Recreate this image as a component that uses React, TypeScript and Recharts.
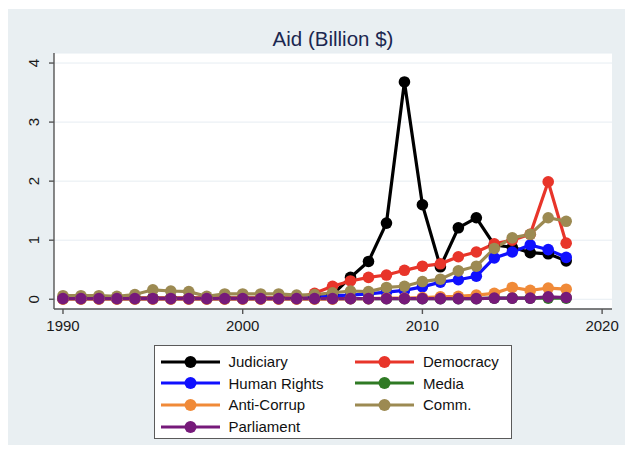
import React from "react";
import { LineChart, Line, XAxis, YAxis, CartesianGrid } from "recharts";

const years = [
  1990, 1991, 1992, 1993, 1994, 1995, 1996, 1997, 1998, 1999, 2000, 2001, 2002,
  2003, 2004, 2005, 2006, 2007, 2008, 2009, 2010, 2011, 2012, 2013, 2014, 2015,
  2016, 2017, 2018,
];

const judiciary = [
  0.02, 0.02, 0.02, 0.02, 0.02, 0.02, 0.02, 0.02, 0.02, 0.02, 0.02, 0.02, 0.02,
  0.02, 0.04, 0.08, 0.37, 0.64, 1.29, 3.68, 1.6, 0.55, 1.21, 1.38, 0.92, 0.88,
  0.79, 0.77, 0.65,
];
const democracy = [
  0.02, 0.02, 0.02, 0.02, 0.02, 0.02, 0.02, 0.02, 0.02, 0.02, 0.02, 0.02, 0.02,
  0.02, 0.1, 0.22, 0.31, 0.37, 0.41, 0.49, 0.56, 0.6, 0.72, 0.8, 0.94, 1.0,
  1.1, 1.99, 0.95,
];
const humanRights = [
  0.01, 0.01, 0.01, 0.01, 0.01, 0.01, 0.01, 0.01, 0.01, 0.01, 0.01, 0.01, 0.01,
  0.01, 0.03, 0.06, 0.07, 0.09, 0.12, 0.15, 0.21, 0.29, 0.33, 0.39, 0.7, 0.8,
  0.92, 0.84, 0.71,
];
const media = [
  0.01, 0.01, 0.01, 0.01, 0.01, 0.01, 0.01, 0.01, 0.01, 0.01, 0.01, 0.01, 0.01,
  0.01, 0.01, 0.01, 0.01, 0.01, 0.01, 0.01, 0.01, 0.01, 0.01, 0.01, 0.02, 0.02,
  0.02, 0.02, 0.02,
];
const antiCorrup = [
  0.0, 0.0, 0.0, 0.0, 0.0, 0.0, 0.0, 0.0, 0.0, 0.0, 0.0, 0.0, 0.0, 0.0, 0.0,
  0.0, 0.01, 0.01, 0.02, 0.02, 0.03, 0.04, 0.05, 0.07, 0.1, 0.2, 0.15, 0.19,
  0.17,
];
const comm = [
  0.06, 0.06, 0.06, 0.05, 0.08, 0.16, 0.14, 0.13, 0.05, 0.09, 0.09, 0.09, 0.09,
  0.07, 0.08, 0.11, 0.14, 0.13, 0.2, 0.22, 0.3, 0.34, 0.48, 0.56, 0.86, 1.04,
  1.1, 1.38, 1.32,
];
const parliament = [
  0.01, 0.01, 0.01, 0.01, 0.01, 0.01, 0.01, 0.01, 0.01, 0.01, 0.01, 0.01, 0.01,
  0.01, 0.01, 0.01, 0.01, 0.01, 0.01, 0.01, 0.01, 0.01, 0.01, 0.01, 0.02, 0.02,
  0.02, 0.04, 0.03,
];

const xTicks = [1990, 2000, 2010, 2020];
const yTicks = [0, 1, 2, 3, 4];

// legend order is row-first, two columns (Stata style)
const series = [
  { key: "judiciary", name: "Judiciary", color: "#000000", values: judiciary },
  { key: "democracy", name: "Democracy", color: "#e8352a", values: democracy },
  { key: "humanRights", name: "Human Rights", color: "#1010ff", values: humanRights },
  { key: "media", name: "Media", color: "#2f7a24", values: media },
  { key: "antiCorrup", name: "Anti-Corrup", color: "#f08a38", values: antiCorrup },
  { key: "comm", name: "Comm.", color: "#9c8a52", values: comm },
  { key: "parliament", name: "Parliament", color: "#761a7a", values: parliament },
];

const data = years.map((year, i) => {
  const row: Record<string, number> = { year };
  series.forEach((s) => {
    row[s.key] = s.values[i];
  });
  return row;
});

const FONT = '"Liberation Sans", Arial, Helvetica, sans-serif';
const AXIS = "#555555";

const YTick = (props: any) => {
  const { x, y, payload } = props;
  const bx = x - 8;
  return (
    <text
      x={bx}
      y={y}
      transform={`rotate(-90, ${bx}, ${y})`}
      textAnchor="middle"
      fontSize={15}
      fontFamily={FONT}
      fill="#1a1a1a"
    >
      {payload.value}
    </text>
  );
};

const XTick = (props: any) => {
  const { x, y, payload } = props;
  return (
    <text
      x={x}
      y={y}
      dy="0.71em"
      textAnchor="middle"
      fontSize={15}
      fontFamily={FONT}
      fill="#1a1a1a"
    >
      {payload.value}
    </text>
  );
};

function LegendBox() {
  const rows: (typeof series)[] = [];
  for (let i = 0; i < series.length; i += 2) rows.push(series.slice(i, i + 2));
  return (
    <div
      style={{
        position: "absolute",
        left: 146,
        top: 336,
        width: 358,
        height: 94,
        background: "#fff",
        border: "1.5px solid #5a5a5a",
        boxSizing: "border-box",
        fontFamily: FONT,
        fontSize: 15,
        color: "#111",
      }}
    >
      {rows.map((row, r) =>
        row.map((s, c) => (
          <div
            key={s.key}
            style={{
              position: "absolute",
              left: c === 0 ? 5.5 : 200,
              top: 4.5 + r * 21.7,
              height: 22,
              display: "flex",
              alignItems: "center",
            }}
          >
            <svg width={60} height={14} style={{ display: "block" }}>
              <line x1={0} y1={7} x2={59} y2={7} stroke={s.color} strokeWidth={3.2} />
              <circle cx={29.5} cy={7} r={6} fill={s.color} />
            </svg>
            <span style={{ marginLeft: 8, whiteSpace: "nowrap" }}>{s.name}</span>
          </div>
        ))
      )}
    </div>
  );
}

export default function App() {
  return (
    <div
      style={{
        position: "absolute",
        left: 0,
        top: 0,
        width: 625,
        height: 455,
        background: "#fff",
      }}
    >
      <div
        style={{
          position: "absolute",
          left: 8,
          top: 9,
          width: 617,
          height: 436,
          background: "#e9eff2",
        }}
      >
        <div
          style={{
            position: "absolute",
            left: 0,
            width: 650,
            top: 18,
            textAlign: "center",
            fontFamily: FONT,
            fontSize: 20.5,
            color: "#1b2750",
            lineHeight: "24px",
          }}
        >
          Aid (Billion $)
        </div>
        <LineChart
          width={617}
          height={436}
          data={data}
          margin={{ top: 44, right: 13, bottom: 106, left: 0 }}
          style={{ position: "absolute", left: 0, top: 0 }}
        >
          <CartesianGrid
            vertical={false}
            stroke="#e6edf2"
            strokeWidth={1}
            fill="#ffffff"
            fillOpacity={1}
          />
          <XAxis
            dataKey="year"
            type="number"
            domain={[1989.5, 2020.55]}
            ticks={xTicks}
            allowDataOverflow
            height={30}
            tickSize={5}
            tickMargin={6}
            stroke={AXIS}
            strokeWidth={1.4}
            tick={<XTick />}
          />
          <YAxis
            type="number"
            domain={[-0.165, 4.17]}
            ticks={yTicks}
            allowDataOverflow
            width={46}
            tickSize={5}
            stroke={AXIS}
            strokeWidth={1.4}
            tick={<YTick />}
          />
          {series.map((s) => (
            <Line
              key={s.key}
              type="linear"
              dataKey={s.key}
              name={s.name}
              stroke={s.color}
              strokeWidth={3.2}
              dot={{ r: 5.8, fill: s.color, stroke: "none" }}
              activeDot={false}
              isAnimationActive={false}
            />
          ))}
        </LineChart>
        <LegendBox />
      </div>
    </div>
  );
}
